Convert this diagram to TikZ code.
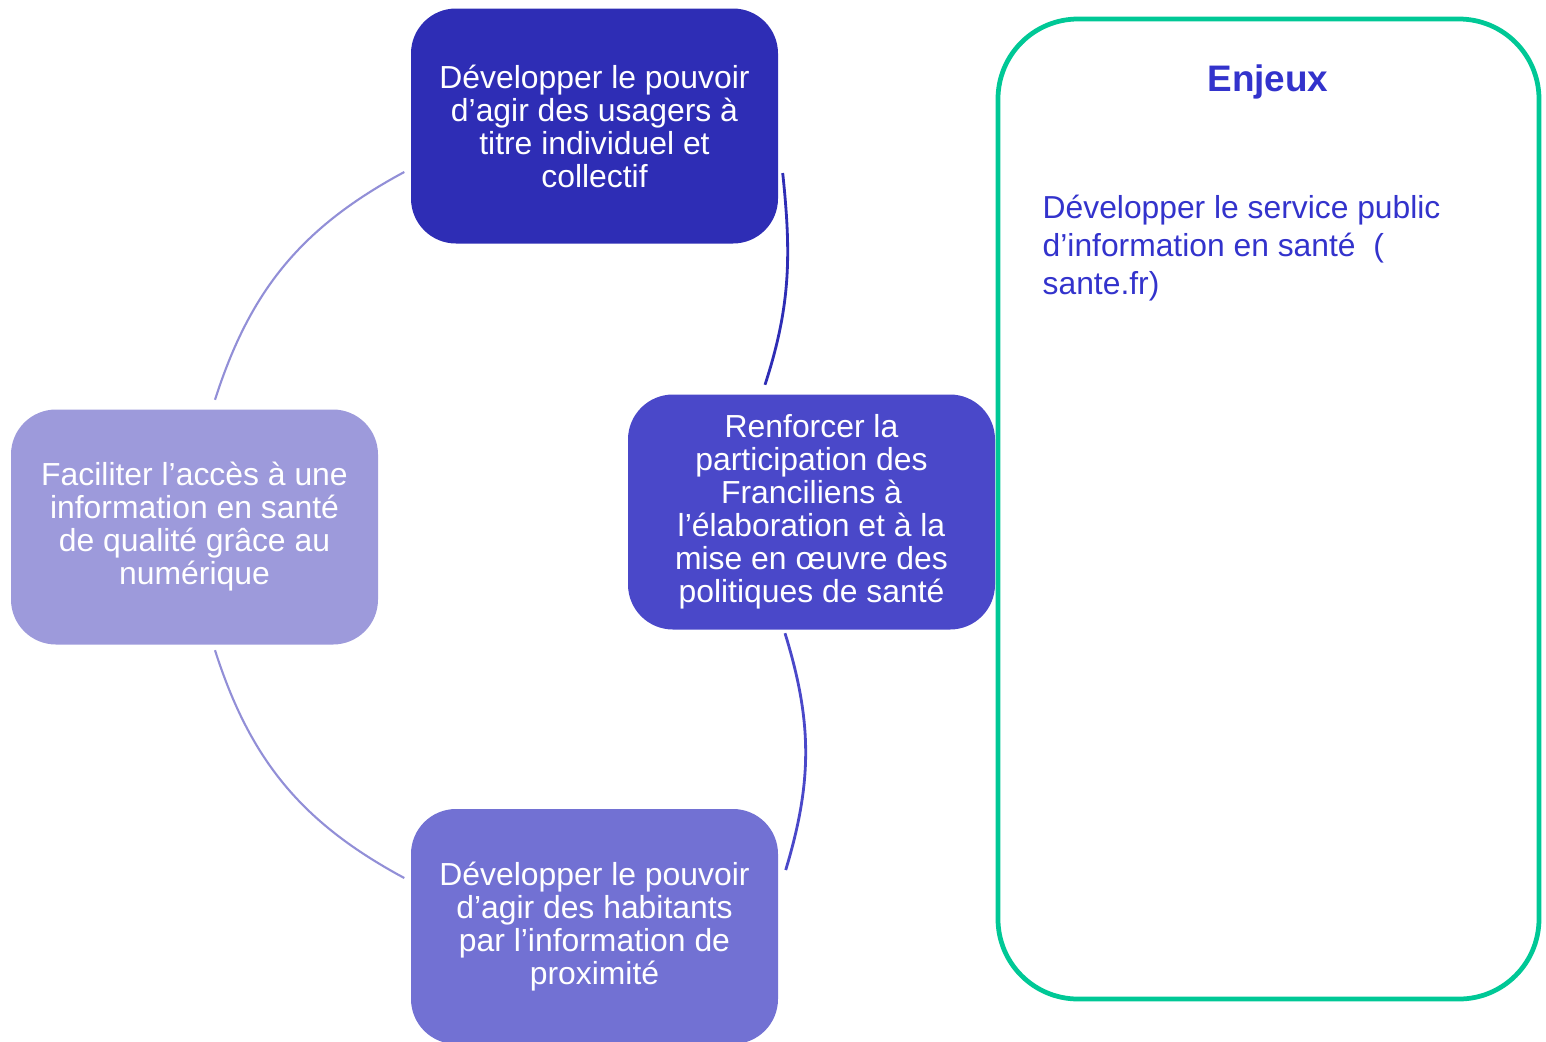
\documentclass[tikz,border=0pt]{standalone}
\usepackage{fontspec}
\setmainfont{Liberation Sans}
\usepackage{tikz}
\definecolor{TopBlue}{HTML}{2E2DB5}
\definecolor{RightBlue}{HTML}{4A48C9}
\definecolor{BottomBlue}{HTML}{7271D3}
\definecolor{LeftBlue}{HTML}{9D9ADB}
\definecolor{EnjeuxGreen}{HTML}{00C896}
\definecolor{EnjeuxText}{HTML}{3333CC}

\begin{document}
\begin{tikzpicture}[
	box/.style={rounded corners=0.45cm, minimum width=3.67cm, minimum height=2.35cm, inner sep=0pt,
		text=white, align=center, font=\fontsize{9.07}{9.4}\selectfont},
	lightarc/.style={LeftBlue!90!TopBlue, line width=0.6pt},
	darkarc/.style={line width=0.8pt}]
		\useasboundingbox (0,0) rectangle (15.46,-10.41);
		% cycle of the four actions
		\node[box, fill=TopBlue] (usagers) at (5.945,-1.26) {Développer le pouvoir\\d’agir des usagers à\\titre individuel et\\collectif};
		\node[box, fill=RightBlue] (franciliens) at (8.115,-5.12) {Renforcer la\\participation des\\Franciliens à\\l’élaboration et à la\\mise en œuvre des\\politiques de santé};
		\node[box, fill=BottomBlue] (habitants) at (5.945,-9.265) {Développer le pouvoir\\d’agir des habitants\\par l’information de\\proximité};
		\node[box, fill=LeftBlue] (numerique) at (1.945,-5.27) {Faciliter l’accès à une\\information en santé\\de qualité grâce au\\numérique};
		\draw[darkarc, TopBlue] ([shift={(0.04,-0.47)}]usagers.east) to[out=-84, in=72] ([shift={(-0.465,0.09)}]franciliens.north);
		\draw[darkarc, RightBlue] ([shift={(-0.265,-0.03)}]franciliens.south) to[bend left=17] ([shift={(0.07,0.565)}]habitants.east);
		\draw[lightarc] ([shift={(0.205,-0.05)}]numerique.south) to[bend right=22] ([shift={(-0.06,0.485)}]habitants.west);
		\draw[lightarc] ([shift={(0.205,0.09)}]numerique.north) to[bend left=22] ([shift={(-0.06,-0.46)}]usagers.west);
		% enjeux frame
		\draw[EnjeuxGreen, line width=1.35pt, rounded corners=0.8cm] (9.98,-0.19) rectangle (15.39,-9.99);
		\node[anchor=base, text=EnjeuxText, font=\fontsize{10.5}{12}\selectfont\bfseries] (enjeux) at (12.68,-0.91) {Enjeux};
		\node[anchor=north west, inner sep=0pt, align=left, text=EnjeuxText, font=\fontsize{9.05}{10.8}\selectfont] (service) at (10.42,-1.94) {Développer le service public\\d’information en santé~~(\\sante.fr)};
\end{tikzpicture}
\end{document}
